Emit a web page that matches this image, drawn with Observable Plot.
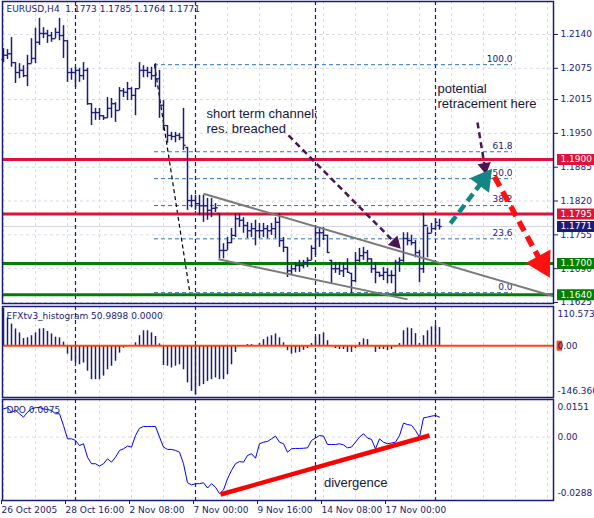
<!DOCTYPE html>
<html><head><meta charset="utf-8">
<script src="https://cdn.jsdelivr.net/npm/d3@7"></script>
<script src="https://cdn.jsdelivr.net/npm/@observablehq/plot@0.6"></script>
<style>
body{margin:0;background:#fff;}
#wrap{position:relative;width:594px;height:518px;overflow:hidden;background:#fff;}
#wrap svg{position:absolute;left:0;}
</style></head><body><div id="wrap"></div>
<script>
// ---------- DATA ----------
const high = [1.2113,1.2111,1.2134,1.2086,1.2084,1.2080,1.2100,1.2132,1.2152,1.2171,
 1.2153,1.2148,1.2144,1.2152,1.2171,1.2157,1.2128,1.2075,1.2077,1.2075,
 1.2086,1.2075,1.2007,1.1998,1.1998,1.1984,1.2019,1.2017,1.2009,1.2038,
 1.2036,1.2048,1.2038,1.2036,1.2086,1.2080,1.2077,1.2077,1.2084,1.2071,
 1.2013,1.1965,1.1952,1.1952,1.1950,1.1998,1.1923,1.1831,1.1831,1.1831,
 1.1831,1.1825,1.1825,1.1815,1.1796,1.1738,1.1750,1.1767,1.1796,1.1796,
 1.1788,1.1779,1.1777,1.1783,1.1777,1.1777,1.1773,1.1777,1.1788,1.1796,
 1.1750,1.1731,1.1696,1.1702,1.1706,1.1706,1.1711,1.1734,1.1773,1.1769,
 1.1769,1.1754,1.1706,1.1702,1.1702,1.1700,1.1709,1.1681,1.1721,1.1729,
 1.1731,1.1725,1.1709,1.1702,1.1683,1.1692,1.1690,1.1686,1.1706,1.1711,
 1.1759,1.1759,1.1754,1.1744,1.1725,1.1796,1.1769,1.1777,1.1786,1.1785];
const low = [1.2086,1.2092,1.2077,1.2046,1.2055,1.2057,1.2040,1.2084,1.2084,1.2119,
 1.2132,1.2123,1.2125,1.2132,1.2128,1.2094,1.2048,1.2052,1.2038,1.2048,
 1.2052,1.2004,1.1965,1.1975,1.1975,1.1975,1.1979,1.1979,1.1971,1.1994,
 1.2019,1.2013,1.2013,1.1984,1.2036,1.2057,1.2057,1.2052,1.2038,1.1979,
 1.1955,1.1931,1.1936,1.1932,1.1936,1.1917,1.1802,1.1807,1.1802,1.1792,
 1.1779,1.1783,1.1788,1.1798,1.1709,1.1709,1.1725,1.1738,1.1750,1.1769,
 1.1758,1.1748,1.1750,1.1734,1.1748,1.1750,1.1748,1.1754,1.1748,1.1731,
 1.1721,1.1673,1.1677,1.1683,1.1683,1.1690,1.1692,1.1706,1.1715,1.1731,
 1.1744,1.1719,1.1661,1.1681,1.1677,1.1673,1.1681,1.1642,1.1663,1.1702,
 1.1706,1.1702,1.1681,1.1661,1.1673,1.1667,1.1661,1.1661,1.1642,1.1683,
 1.1702,1.1734,1.1734,1.1711,1.1663,1.1681,1.1711,1.1758,1.1763,1.1764];
const open = [1.2092,1.2100,1.2103,1.2086,1.2067,1.2071,1.2061,1.2084,1.2094,1.2125,
 1.2142,1.2142,1.2138,1.2132,1.2144,1.2138,1.2128,1.2067,1.2067,1.2071,
 1.2061,1.2071,1.2007,1.1990,1.1990,1.1984,1.1980,1.1998,1.2007,1.1994,
 1.2032,1.2029,1.2036,1.2023,1.2036,1.2071,1.2071,1.2067,1.2061,1.2055,
 1.2004,1.1965,1.1946,1.1944,1.1946,1.1942,1.1923,1.1821,1.1821,1.1815,
 1.1811,1.1811,1.1802,1.1806,1.1796,1.1725,1.1725,1.1740,1.1754,1.1786,
 1.1783,1.1773,1.1763,1.1767,1.1763,1.1763,1.1767,1.1763,1.1767,1.1779,
 1.1744,1.1731,1.1686,1.1690,1.1696,1.1696,1.1702,1.1706,1.1729,1.1759,
 1.1759,1.1754,1.1706,1.1690,1.1690,1.1686,1.1690,1.1681,1.1667,1.1706,
 1.1715,1.1721,1.1709,1.1690,1.1683,1.1677,1.1683,1.1677,1.1677,1.1702,
 1.1706,1.1748,1.1744,1.1740,1.1721,1.1690,1.1773,1.1758,1.1767,1.1773];
const close = [1.2100,1.2103,1.2086,1.2067,1.2071,1.2061,1.2084,1.2094,1.2125,1.2142,
 1.2142,1.2138,1.2132,1.2144,1.2138,1.2128,1.2067,1.2067,1.2071,1.2061,
 1.2071,1.2007,1.1990,1.1990,1.1984,1.1980,1.1998,1.2007,1.1994,1.2032,
 1.2029,1.2036,1.2023,1.2036,1.2071,1.2071,1.2067,1.2061,1.2055,1.2004,
 1.1965,1.1946,1.1944,1.1946,1.1942,1.1927,1.1821,1.1821,1.1815,1.1811,
 1.1811,1.1802,1.1806,1.1807,1.1725,1.1725,1.1740,1.1754,1.1786,1.1783,
 1.1773,1.1763,1.1767,1.1763,1.1763,1.1767,1.1763,1.1767,1.1779,1.1744,
 1.1731,1.1686,1.1690,1.1696,1.1696,1.1702,1.1706,1.1729,1.1759,1.1759,
 1.1754,1.1721,1.1690,1.1690,1.1686,1.1690,1.1683,1.1667,1.1706,1.1715,
 1.1721,1.1709,1.1690,1.1683,1.1677,1.1683,1.1677,1.1677,1.1702,1.1706,
 1.1748,1.1744,1.1740,1.1721,1.1690,1.1773,1.1758,1.1767,1.1779,1.1771];
const histo = [105,78,61,47,36,20,22,28,36,47,
 48,40,33,24,22,10,-24,-44,-49,-54,
 -49,-72,-96,-96,-96,-86,-68,-58,-44,-21,
 -7,0,0,8,28,42,42,36,26,5,
 -56,-58,-63,-58,-54,-68,-105,-129,-140,-115,
 -110,-101,-96,-91,-96,-96,-82,-54,-19,0,
 0,3,3,0,6,17,24,28,33,22,
 8,-14,-24,-21,-19,-13,-8,6,24,31,
 36,14,0,-8,-11,-11,-19,-19,-8,9,
 19,17,0,-19,-11,-11,-14,-11,-4,6,
 42,50,48,34,6,28,42,53,59,51];
const dpo = [0.0144,0.0150,0.0127,0.0136,0.0119,0.0102,0.0127,0.0144,0.0150,0.0151,
 0.0144,0.0141,0.0136,0.0119,0.0119,0.0059,-0.0009,-0.0009,-0.0017,-0.0043,
 -0.0034,-0.0103,-0.0136,-0.0136,-0.0148,-0.0136,-0.0111,-0.0128,-0.0103,-0.0068,
 -0.0060,-0.0046,-0.0051,0.0008,0.0045,0.0054,0.0054,0.0054,0.0054,0.0000,
 -0.0051,-0.0063,-0.0063,-0.0068,-0.0077,-0.0136,-0.0233,-0.0244,-0.0238,-0.0238,
 -0.0233,-0.0260,-0.0238,-0.0256,-0.0288,-0.0270,-0.0213,-0.0170,-0.0136,-0.0125,
 -0.0128,-0.0094,-0.0085,-0.0108,-0.0034,-0.0026,-0.0022,-0.0009,0.0005,-0.0026,
 -0.0034,-0.0077,-0.0060,-0.0058,-0.0058,-0.0057,-0.0055,-0.0017,-0.0005,0.0008,
 0.0005,-0.0038,-0.0038,-0.0038,-0.0034,-0.0040,-0.0055,-0.0051,-0.0026,0.0000,
 0.0017,-0.0005,-0.0012,-0.0060,-0.0009,-0.0026,-0.0034,-0.0030,-0.0026,0.0008,
 0.0071,0.0064,0.0060,0.0034,0.0000,0.0098,0.0102,0.0107,0.0110,0.0102];

const priceTicks = [1.2140,1.2075,1.2015,1.1950,1.1885,1.1820,1.1755,1.1690,1.1625];
const gridBars = [0,8,16,24,32,40,56,64,72,80,88,96,104,112,120,128,136];
const weekBars = [18,48,78,108];
const xTicks = [0,16,32,48,64,80,96];
const xLabels = ["26 Oct 2005","28 Oct 16:00","2 Nov 08:00","7 Nov 00:00","9 Nov 16:00","14 Nov 08:00","17 Nov 00:00"];
const levelPrices = [1.1900,1.1795,1.1700,1.1640];
const levelColors = ["#dc143c","#dc143c","#008000","#008000"];
const bid = 1.1771;
const boxPrices = [1.1900,1.1795,1.1771,1.1700,1.1640];
const boxColors = ["#dc143c","#dc143c","#1b1b78","#008000","#008000"];
const fibRatios = [100,61.8,50,38.2,23.6,0];
const fibHigh = 1.2082, fibLow = 1.1644, fibStart = 37.75, fibEnd = 127.25;
const fibTrend = [{i1:37.75,p1:1.2082,i2:46.5,p2:1.1648}];
const channel = [{i1:50,p1:1.1834,i2:137.5,p2:1.1637},{i1:53.75,p1:1.1708,i2:101,p2:1.1631}];
const noteText = ["short term channel;","res. breached","potential","retracement here"];
const noteBar = [50.75,50.75,108.5,108.5];
const notePrice = [1.1988,1.1959,1.2036,1.2007];
const arrowTail = [[71.25,1.1946],[118.5,1.1971],[111.75,1.1777],[122.75,1.1867]];
const arrowTip = [[98.75,1.1733],[120.5,1.1877],[121.25,1.1873],[135.75,1.1684]];
const arrowColor = ["#4b1452","#4b1452","#138585","#ff1010"];
const divergence = [{i1:54.25,v1:-0.0293,i2:106.5,v2:0.0008}];
const histLabels = [110.5739,0,-146.360];
const dpoLabels = [0.0151,0,-0.0288];

// ---------- STYLE ----------
const navy = "#1b1b78", grid = "#d9d9f2", fibColor = "#2f74c0";
const font = "'DejaVu Sans', Verdana, sans-serif";
const noteFont = "'Liberation Sans', Arial, sans-serif";
const W = 594, ML = 2, MR = 41;
const xDomain = [-0.25, 137.5];
const kx = (W - ML - MR) / (xDomain[1] - xDomain[0]);
const base = {width: W, marginLeft: ML, marginRight: MR,
  style: {fontFamily: font, fontSize: "9px", color: navy, background: "transparent", overflow: "visible"}};

function addShadow(svg, id) {
  const ns = "http://www.w3.org/2000/svg";
  const defs = document.createElementNS(ns, "defs");
  defs.innerHTML = `<filter id="${id}" filterUnits="userSpaceOnUse" x="-50" y="-50" width="700" height="700"><feGaussianBlur in="SourceAlpha" stdDeviation="2.2"/><feOffset dx="4" dy="4" result="b"/><feComponentTransfer><feFuncA type="linear" slope="0.5"/></feComponentTransfer><feMerge><feMergeNode/><feMergeNode in="SourceGraphic"/></feMerge></filter>`;
  svg.insertBefore(defs, svg.firstChild);
  svg.querySelectorAll('[aria-label="shadow"]').forEach(g => g.setAttribute("filter", `url(#${id})`));
}

const bars = close.map((c, i) => ({i, o: open[i], h: high[i], l: low[i], c}));
const wrap = document.getElementById("wrap");

// ---------- MAIN PANEL ----------
const yA = [1.16231, 1.22034];
const HA = 305, mtA = 1, mbA = 2;
const kyA = (HA - mtA - mbA) / (yA[1] - yA[0]);
const fib = fibRatios.map(r => ({r, p: fibLow + r / 100 * (fibHigh - fibLow)}));
const boxes = boxPrices.map((p, k) => ({p, color: boxColors[k]}));
const levels = levelPrices.map((p, k) => ({p, color: levelColors[k]}));
const notes = noteText.map((t, k) => ({t, i: noteBar[k], p: notePrice[k]}));
const headSize = [5, 5, 9, 10.5];
const widths = [2.5, 2.5, 4.5, 5.5];
const dashes = ["6,4", "6,4", "9,5", "11,6"];
const arrows = arrowTail.map((t, k) => {
  const tip = arrowTip[k];
  const dxp = (tip[0] - t[0]) * kx, dyp = -(tip[1] - t[1]) * kyA;
  const len = Math.hypot(dxp, dyp), ux = dxp / len, uy = dyp / len;
  const back = headSize[k] * 0.9;
  return {i1: t[0], p1: t[1], i2: tip[0] - ux * back / kx, p2: tip[1] + uy * back / kyA,
    color: arrowColor[k], w: widths[k], dash: dashes[k], r: headSize[k],
    rot: Math.atan2(dxp, -dyp) * 180 / Math.PI};
});
const bx1 = (557 - 3) / 4, bx2 = (596 - 3) / 4;

const shafts = arrows.map((a, k) => Plot.link([a], {x1: "i1", y1: "p1", x2: "i2", y2: "p2",
  stroke: a.color, strokeWidth: a.w, strokeDasharray: a.dash, ariaLabel: "shadow"}));
const heads = arrows.map(a => Plot.dot([a], {x: "i2", y: "p2", symbol: "triangle", r: a.r,
  fill: a.color, stroke: "none", rotate: a.rot, ariaLabel: "shadow"}));

const main = Plot.plot({
  ...base, height: HA, marginTop: mtA, marginBottom: mbA,
  x: {domain: xDomain, axis: null},
  y: {domain: yA, axis: "right", ticks: priceTicks, tickFormat: d => d.toFixed(4), tickSize: 4, tickPadding: 3, label: null},
  marks: [
    Plot.ruleX(gridBars, {stroke: grid, strokeDasharray: "3,3"}),
    Plot.ruleY(priceTicks, {stroke: grid, strokeDasharray: "3,3"}),
    Plot.ruleY([bid], {stroke: "#d4d4ec"}),
    Plot.ruleX(weekBars, {stroke: navy, strokeDasharray: "4,3", strokeWidth: 1.2}),
    Plot.ruleY(fib, {y: "p", x1: fibStart, x2: fibEnd, stroke: fibColor, strokeDasharray: "4,3"}),
    Plot.text(fib, {x: fibEnd, y: "p", text: d => d.r.toFixed(1), textAnchor: "end", dy: -6, fill: navy}),
    Plot.link(fibTrend, {x1: "i1", y1: "p1", x2: "i2", y2: "p2", stroke: "#000", strokeDasharray: "4,3", strokeWidth: 1.2}),
    Plot.ruleY(levels, {y: "p", stroke: "color", strokeWidth: 3}),
    Plot.ruleX(bars, {x: "i", y1: "l", y2: "h", stroke: navy, strokeWidth: 1.5}),
    Plot.link(bars, {x1: d => d.i - 0.55, x2: "i", y1: "o", y2: "o", stroke: navy, strokeWidth: 1.3}),
    Plot.link(bars, {x1: "i", x2: d => d.i + 0.55, y1: "c", y2: "c", stroke: navy, strokeWidth: 1.3}),
    Plot.link(channel, {x1: "i1", y1: "p1", x2: "i2", y2: "p2", stroke: "#7a7a7a", strokeWidth: 2}),
    ...shafts, ...heads,
    Plot.text(notes, {x: "i", y: "p", text: "t", textAnchor: "start", fill: "#16163a", fontSize: 13, fontFamily: noteFont, ariaLabel: "shadow"}),
    Plot.ruleY(boxes, {y: "p", x1: bx1, x2: bx2, stroke: "color", strokeWidth: 11}),
    Plot.text(boxes, {y: "p", x: bx1, text: d => d.p.toFixed(4), fill: "white", textAnchor: "start", dx: 3}),
    Plot.text(["EURUSD,H4  1.1773 1.1785 1.1764 1.1771"], {frameAnchor: "top-left", dx: 4, dy: 4, lineAnchor: "top", textAnchor: "start", fill: navy, fontSize: 9}),
    Plot.frame({stroke: navy, strokeWidth: 1.5})
  ]
});
main.style.top = "0px";
addShadow(main, "shA");
wrap.appendChild(main);

// ---------- HISTOGRAM PANEL ----------
const HB = 93;
const hBars = histo.map((v, i) => ({i, v}));
const hist = Plot.plot({
  ...base, height: HB, marginTop: 1, marginBottom: 1,
  x: {domain: xDomain, axis: null},
  y: {domain: [-146.36, 110.5739], axis: null},
  marks: [
    Plot.ruleX(gridBars, {stroke: grid, strokeDasharray: "3,3"}),
    Plot.ruleX(weekBars, {stroke: navy, strokeDasharray: "4,3", strokeWidth: 1.2}),
    Plot.ruleX(hBars, {x: "i", y1: 0, y2: "v", stroke: navy, strokeWidth: 1.5}),
    Plot.ruleY([0], {stroke: "#ff4500", strokeWidth: 2}),
    Plot.ruleY([0], {x1: bx1 - 0.1, x2: bx1 + 1.3, stroke: "#ff4500", strokeWidth: 10}),
    Plot.text([histLabels[0]], {y: d => d, text: d => d.toFixed(4), frameAnchor: "right", dx: 4, dy: 8, textAnchor: "start", fill: navy}),
    Plot.text([histLabels[1]], {y: d => d, text: d => d.toFixed(2), frameAnchor: "right", dx: 4, textAnchor: "start", fill: navy}),
    Plot.text([histLabels[2]], {y: d => d, text: d => d.toFixed(3), frameAnchor: "right", dx: 4, dy: -6, textAnchor: "start", fill: navy}),
    Plot.text(["EFXtv3_histogram 50.9898 0.0000"], {frameAnchor: "top-left", dx: 4, dy: 6, lineAnchor: "top", textAnchor: "start", fill: navy, fontSize: 9}),
    Plot.frame({stroke: navy, strokeWidth: 1.5})
  ]
});
hist.style.top = "305px";
wrap.appendChild(hist);

// ---------- DPO PANEL ----------
const dPts = dpo.map((v, i) => ({i, v}));
const dpoPlot = Plot.plot({
  ...base, height: 120, marginTop: 1, marginBottom: 18,
  x: {domain: xDomain, axis: null},
  y: {domain: [-0.03237, 0.01918], axis: null},
  marks: [
    Plot.ruleX(gridBars, {stroke: grid, strokeDasharray: "3,3"}),
    Plot.ruleY([0], {stroke: grid, strokeDasharray: "3,3"}),
    Plot.ruleX(weekBars, {stroke: navy, strokeDasharray: "4,3", strokeWidth: 1.2}),
    Plot.line(dPts, {x: "i", y: "v", stroke: "#0000ff", strokeWidth: 1}),
    Plot.link(divergence, {x1: "i1", y1: "v1", x2: "i2", y2: "v2", stroke: "#ff0000", strokeWidth: 4.5, ariaLabel: "shadow"}),
    Plot.text([{i: 80.1, v: -0.0232, t: "divergence"}], {x: "i", y: "v", text: "t", textAnchor: "start", fill: "#16163a", fontSize: 13, fontFamily: noteFont, ariaLabel: "shadow"}),
    Plot.text(dpoLabels, {y: d => d, text: d => d === 0 ? "0.00" : d.toFixed(4), frameAnchor: "right", dx: 4, textAnchor: "start", fill: navy}),
    Plot.text(["DPO 0.0075"], {frameAnchor: "top-left", dx: 4, dy: 7, lineAnchor: "top", textAnchor: "start", fill: navy, fontSize: 9}),
    Plot.axisX(xTicks, {anchor: "bottom", tickSize: 4, tickPadding: 2, textAnchor: "start", dx: -2, tickFormat: d => xLabels[xTicks.indexOf(d)], color: navy, fontSize: 9}),
    Plot.frame({stroke: navy, strokeWidth: 1.5})
  ]
});
dpoPlot.style.top = "398px";
addShadow(dpoPlot, "shC");
wrap.appendChild(dpoPlot);
</script></body></html>
